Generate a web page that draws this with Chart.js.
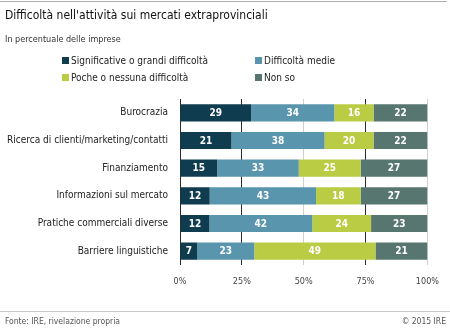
<!DOCTYPE html>
<html>
<head>
<meta charset="utf-8">
<script src="https://cdn.jsdelivr.net/npm/chart.js@4/dist/chart.umd.min.js"></script>
<style>
  html, body { margin: 0; padding: 0; background: #fff; }
  #wrap { position: relative; width: 450px; height: 331px; overflow: hidden; font-family: "DejaVu Sans Condensed", "DejaVu Sans", sans-serif; color: #222; }
  #topline { position: absolute; left: 0; top: 1px; width: 447px; height: 1px; background: #b0b0b0; }
  #title { position: absolute; left: 5px; top: 8px; font-size: 12px; color: #111; white-space: nowrap; }
  #subtitle { position: absolute; left: 5px; top: 34px; font-size: 9px; color: #333; white-space: nowrap; }
  .leg { position: absolute; font-size: 10px; color: #222; white-space: nowrap; line-height: 12px; }
  .leg i { display: inline-block; width: 7px; height: 7px; margin-right: 2px; vertical-align: 0px; }
  #botline { position: absolute; left: 0; top: 311px; width: 450px; height: 1px; background: #c8c8c8; }
  #src { position: absolute; left: 5px; top: 316px; font-size: 8.5px; color: #555; white-space: nowrap; }
  #copy { position: absolute; right: 4px; top: 316px; font-size: 8.5px; color: #555; white-space: nowrap; }
  #c { position: absolute; left: 0; top: 0; }
</style>
</head>
<body>
<div id="wrap">
  <canvas id="c" width="450" height="331"></canvas>
  <div id="topline"></div>
  <div id="title">Difficoltà nell'attività sui mercati extraprovinciali</div>
  <div id="subtitle">In percentuale delle imprese</div>
  <div id="legend"></div>
  <div id="botline"></div>
  <div id="src">Fonte: IRE, rivelazione propria</div>
  <div id="copy">© 2015 IRE</div>
</div>
<script>
const categories = [
  "Burocrazia",
  "Ricerca di clienti/marketing/contatti",
  "Finanziamento",
  "Informazioni sul mercato",
  "Pratiche commerciali diverse",
  "Barriere linguistiche"
];
const seriesNames = [
  "Significative o grandi difficoltà",
  "Difficoltà medie",
  "Poche o nessuna difficoltà",
  "Non so"
];
const significative = [29, 21, 15, 12, 12, 7];
const medie = [34, 38, 33, 43, 42, 23];
const poche = [16, 20, 25, 18, 24, 49];
const nonSo = [22, 22, 27, 27, 23, 21];
const tickLabels = ["0%", "25%", "50%", "75%", "100%"];

const colors = ["#0f3c4f", "#5a95ae", "#b9cc44", "#587670"];
const raw = [significative, medie, poche, nonSo];
const totals = categories.map((_, i) => raw.reduce((s, arr) => s + arr[i], 0));

// HTML legend (two columns)
const legPos = [[62, 55], [255, 55], [62, 72], [255, 72]];
const legEl = document.getElementById('legend');
seriesNames.forEach((n, k) => {
  const d = document.createElement('div');
  d.className = 'leg';
  d.style.left = legPos[k][0] + 'px';
  d.style.top = legPos[k][1] + 'px';
  d.innerHTML = '<i style="background:' + colors[k] + '"></i>' + n;
  legEl.appendChild(d);
});

const valueLabels = {
  id: 'valueLabels',
  afterDatasetsDraw(chart) {
    const ctx = chart.ctx;
    ctx.save();
    ctx.font = 'bold 10px "DejaVu Sans Condensed", "DejaVu Sans", sans-serif';
    ctx.fillStyle = '#ffffff';
    ctx.textAlign = 'center';
    ctx.textBaseline = 'middle';
    chart.data.datasets.forEach((ds, di) => {
      const meta = chart.getDatasetMeta(di);
      meta.data.forEach((el, i) => {
        const p = el.getCenterPoint();
        ctx.fillText(String(raw[di][i]), p.x, p.y + 0.5);
      });
    });
    ctx.restore();
  }
};

new Chart(document.getElementById('c'), {
  type: 'bar',
  data: {
    labels: categories,
    datasets: seriesNames.map((n, k) => ({
      label: n,
      data: raw[k].map((v, i) => v / totals[i] * 100),
      backgroundColor: colors[k],
      borderWidth: 0,
      barPercentage: 0.62,
      categoryPercentage: 1
    }))
  },
  options: {
    indexAxis: 'y',
    responsive: false,
    animation: false,
    devicePixelRatio: 1,
    layout: { padding: { top: 99, right: 21, left: 0, bottom: 0 } },
    plugins: { legend: { display: false }, tooltip: { enabled: false }, title: { display: false } },
    scales: {
      x: {
        stacked: true,
        min: 0, max: 100,
        ticks: {
          stepSize: 25,
          padding: 11,
          color: '#444',
          font: { family: '"DejaVu Sans Condensed", "DejaVu Sans", sans-serif', size: 9 },
          callback: (v) => tickLabels[Math.round(v / 25)]
        },
        grid: {
          drawTicks: false,
          lineWidth: 1,
          color: (c) => {
            const v = c.tick ? c.tick.value : 0;
            return (v === 50 || v === 100) ? '#cfcfcf' : '#2a2a2a';
          }
        },
        border: { display: false },
        afterFit: (s) => { s.height = 66; }
      },
      y: {
        stacked: true,
        ticks: {
          padding: 12,
          color: '#222',
          font: { family: '"DejaVu Sans Condensed", "DejaVu Sans", sans-serif', size: 10 }
        },
        grid: { display: false, drawTicks: false },
        border: { display: false },
        afterFit: (s) => { s.width = 180; }
      }
    }
  },
  plugins: [valueLabels]
});
</script>
</body>
</html>
